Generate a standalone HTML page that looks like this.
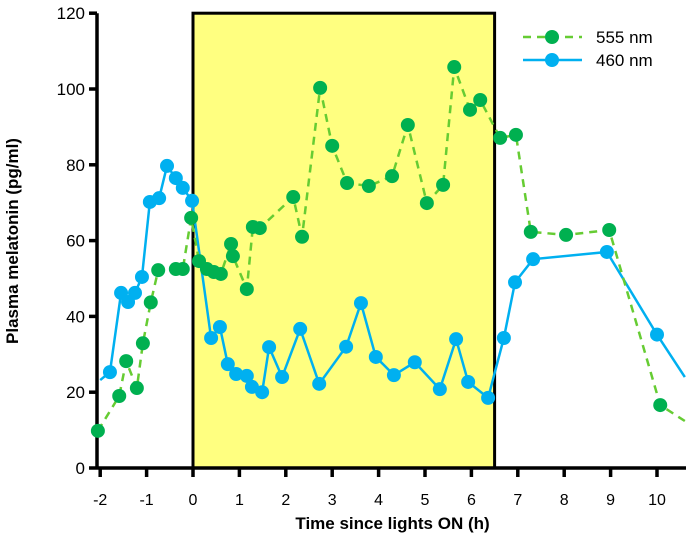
<!DOCTYPE html>
<html><head><meta charset="utf-8"><style>
html,body{margin:0;padding:0;background:#fff;}
svg text{font-family:"Liberation Sans",sans-serif;fill:#000;}
</style></head><body>
<svg id="chart" width="695" height="545" xmlns="http://www.w3.org/2000/svg"></svg>
<script>
const xTicks=[-2,-1,0,1,2,3,4,5,6,7,8,9,10];
const yTicks=[0,20,40,60,80,100,120];
const lightsOn=[0,6.5];
const g555x=[-2.05,-1.59,-1.44,-1.21,-1.08,-0.91,-0.75,-0.37,-0.22,-0.04,0.13,0.30,0.45,0.60,0.82,0.86,1.16,1.29,1.44,2.16,2.35,2.74,3.00,3.32,3.79,4.29,4.63,5.04,5.39,5.63,5.97,6.19,6.62,6.96,7.28,8.04,8.97,10.07];
const g555y=[9.8,19.0,28.2,21.1,32.9,43.7,52.2,52.5,52.5,66.0,54.6,52.5,51.7,51.2,59.1,55.9,47.2,63.6,63.3,71.5,61.0,100.3,85.0,75.2,74.4,77.0,90.5,69.9,74.7,105.8,94.5,97.1,87.1,87.9,62.3,61.5,62.8,16.6];
const g555end=[10.6,12.4];
const b460start=[-2.0,23.2];
const b460x=[-1.79,-1.55,-1.40,-1.25,-1.10,-0.93,-0.73,-0.56,-0.37,-0.22,-0.02,0.39,0.58,0.75,0.93,1.16,1.27,1.49,1.64,1.92,2.31,2.72,3.30,3.62,3.94,4.33,4.78,5.32,5.67,5.93,6.36,6.70,6.94,7.33,8.92,10.0];
const b460y=[25.3,46.2,43.8,46.2,50.4,70.2,71.2,79.7,76.5,73.9,70.5,34.3,37.2,27.4,24.8,24.3,21.4,20.0,31.9,24.0,36.7,22.2,32.0,43.5,29.3,24.5,27.9,20.8,34.0,22.7,18.5,34.3,49.0,55.1,57.0,35.2];
const b460end=[10.6,24.0];

const NS="http://www.w3.org/2000/svg";
const svg=document.getElementById('chart');
const X=v=>193+v*46.4;
const Y=v=>468-v*3.79;
function mk(tag,attrs,parent){const e=document.createElementNS(NS,tag);for(const k in attrs)e.setAttribute(k,attrs[k]);(parent||svg).appendChild(e);return e;}

let r=mk('rect',{x:X(lightsOn[0]),y:Y(120),width:X(lightsOn[1])-X(lightsOn[0]),height:Y(0)-Y(120),fill:'#ffff80',stroke:'#000','stroke-width':3});



let ya=mk('line',{x1:97,y1:Y(120),x2:97,y2:Y(0)+1.5,stroke:'#000','stroke-width':3.5});


let xa=mk('line',{x1:97,y1:Y(0),x2:686,y2:Y(0),stroke:'#000','stroke-width':3.5});



yTicks.forEach(t=>{
  mk('line',{x1:89,y1:Y(t),x2:97,y2:Y(t),stroke:'#000','stroke-width':3.5});
  let tx=mk('text',{x:85,y:Y(t)+6,'text-anchor':'end','font-size':17});
  tx.textContent=t;
  
  
});
xTicks.forEach(t=>{
  mk('line',{x1:X(t),y1:Y(0),x2:X(t),y2:Y(0)+9,stroke:'#000','stroke-width':3.5});
  let tx=mk('text',{x:X(t),y:505,'text-anchor':'middle','font-size':16});
  tx.textContent=t;
  
  
});
let xt=mk('text',{x:X(4.3),y:529,'text-anchor':'middle','font-size':17,'font-weight':'bold'});
xt.textContent='Time since lights ON (h)';


let yt=mk('text',{x:0,y:0,'text-anchor':'middle','font-size':17,'font-weight':'bold',transform:'translate(18,241) rotate(-90)'});
yt.textContent='Plasma melatonin (pg/ml)';



function series(xs,ys,start,end,color,line,dash,name){
  let pts=[];
  if(start)pts.push([X(start[0]),Y(start[1])]);
  xs.forEach((x,i)=>pts.push([X(x),Y(ys[i])]));
  if(end)pts.push([X(end[0]),Y(end[1])]);
  let p=mk('polyline',{points:pts.map(p=>p.join(',')).join(' '),fill:'none',stroke:line,'stroke-width':2.5,'stroke-dasharray':dash});
  
  
  xs.forEach((x,i)=>{
    let c=mk('circle',{cx:X(x),cy:Y(ys[i]),r:7,fill:color});
    
    
  });
}
series(b460x,b460y,b460start,b460end,'#00b0f0','#00b0f0','none','series-460nm');
series(g555x,g555y,null,g555end,'#00b050','#66cc33','8,6','series-555nm');

let lg=mk('g',{});


mk('line',{x1:523,y1:37,x2:582,y2:37,stroke:'#66cc33','stroke-width':2.5,'stroke-dasharray':'8,6'},lg);
mk('circle',{cx:552,cy:37,r:7,fill:'#00b050'},lg);
let t1=mk('text',{x:596,y:43,'font-size':17},lg);t1.textContent='555 nm';


mk('line',{x1:523,y1:60,x2:582,y2:60,stroke:'#00b0f0','stroke-width':2.5},lg);
mk('circle',{cx:552,cy:60,r:7,fill:'#00b0f0'},lg);
let t2=mk('text',{x:596,y:66,'font-size':17},lg);t2.textContent='460 nm';


</script>
</body></html>
